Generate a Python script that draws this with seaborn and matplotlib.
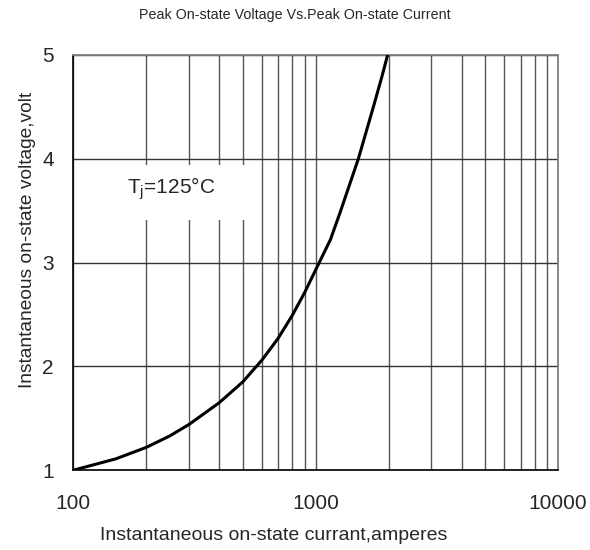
import matplotlib
matplotlib.use('Agg')
import matplotlib.pyplot as plt
import matplotlib.ticker as ticker
from matplotlib.patches import Rectangle
import seaborn as sns
import pandas as pd

# curve
current = [100, 150, 200, 250, 300, 400, 500, 600, 700, 800, 900, 1000, 1150, 1260, 1500, 1730, 1880, 1980]
voltage = [1.0, 1.11, 1.22, 1.33, 1.44, 1.65, 1.85, 2.06, 2.27, 2.49, 2.71, 2.93, 3.22, 3.48, 4.0, 4.5, 4.80, 5.0]

x_ticks = [100, 1000, 10000]
y_ticks = [1, 2, 3, 4, 5]

df = pd.DataFrame({'current': current, 'voltage': voltage})

sns.set_style('white')
plt.rcParams['font.family'] = ['Liberation Sans', 'DejaVu Sans']

fig = plt.figure(figsize=(5.9, 5.5), dpi=100)
ax = fig.add_axes([0.124, 0.145, 0.822, 0.755])

sns.lineplot(data=df, x='current', y='voltage', color='black', linewidth=2.2, ax=ax, zorder=3)

ax.set_xscale('log')
ax.set_xlim(100, 10000)
ax.set_ylim(1, 5)
ax.set_xticks(x_ticks)
ax.xaxis.set_major_formatter(ticker.FuncFormatter(lambda v, p: f'{int(v)}'))
ax.xaxis.set_minor_locator(ticker.LogLocator(base=10, subs=range(2, 10)))
ax.xaxis.set_minor_formatter(ticker.NullFormatter())
ax.set_yticks(y_ticks)

ax.grid(True, which='both', axis='x', color='#555555', linewidth=1.0)
ax.grid(True, which='major', axis='y', color='#333333', linewidth=1.0)
ax.set_axisbelow(True)

for side in ['left', 'bottom']:
    ax.spines[side].set_color('black')
    ax.spines[side].set_linewidth(1.2)
for side in ['top', 'right']:
    ax.spines[side].set_color('#808080')
    ax.spines[side].set_linewidth(1.3)

ax.tick_params(axis='both', which='major', labelsize=15, length=3, color='black')
ax.tick_params(axis='x', which='major', pad=14)
ax.tick_params(axis='y', which='major', pad=11)
ax.tick_params(axis='x', which='minor', length=0)

ax.set_xlabel('Instantaneous on-state currant,amperes', fontsize=14, va='center')
ax.set_ylabel('Instantaneous on-state voltage,volt', fontsize=13.8, va='center')
ax.xaxis.set_label_coords(0.414, -0.156)
ax.yaxis.set_label_coords(-0.095, 0.554)

# white patch hiding the grid behind the label
ax.add_patch(Rectangle((108, 3.41), 540 - 108, 3.94 - 3.41, facecolor='white',
                       edgecolor='none', zorder=1.5))
ax.text(167, 3.71, r'T$_\mathregular{j}$=125°C', fontsize=15, va='center', ha='left', zorder=2)

fig.text(0.5, 0.972, 'Peak On-state Voltage Vs.Peak On-state Current',
         ha='center', va='center', fontsize=10.3)

fig.savefig('out.png', dpi=100)
